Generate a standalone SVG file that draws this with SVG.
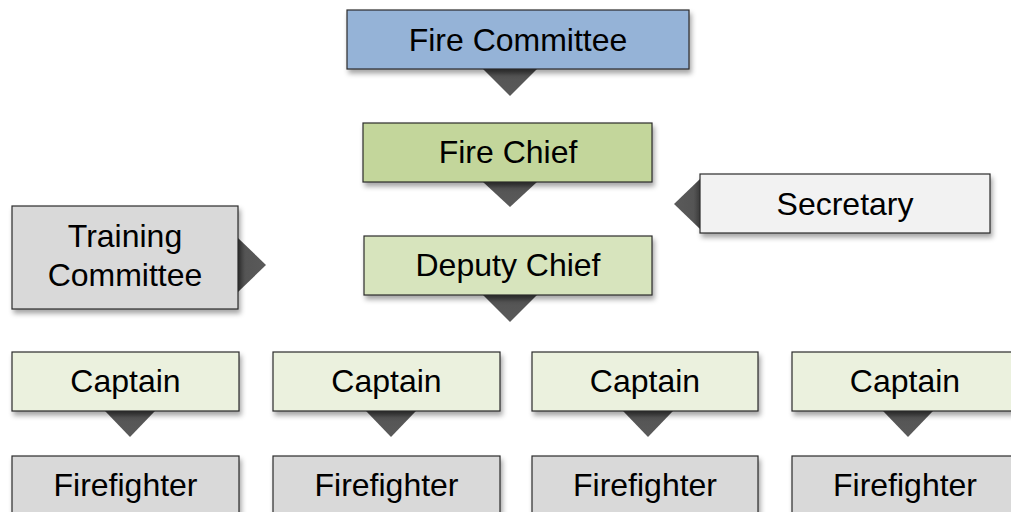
<svg xmlns="http://www.w3.org/2000/svg" width="1011" height="512" viewBox="0 0 1011 512">
<defs>
<filter id="sh" x="-10%" y="-20%" width="125%" height="150%">
<feDropShadow dx="2" dy="4" stdDeviation="2.5" flood-color="#000" flood-opacity="0.35"/>
</filter>
<linearGradient id="tg" x1="0" y1="0" x2="0" y2="1">
<stop offset="0" stop-color="#3f3f3f"/>
<stop offset="0.25" stop-color="#555"/>
<stop offset="1" stop-color="#5a5a5a"/>
</linearGradient>
<linearGradient id="tgh" x1="0" y1="0" x2="1" y2="0">
<stop offset="0" stop-color="#3f3f3f"/>
<stop offset="0.25" stop-color="#555"/>
<stop offset="1" stop-color="#5a5a5a"/>
</linearGradient>
<linearGradient id="tgl" x1="1" y1="0" x2="0" y2="0">
<stop offset="0" stop-color="#3f3f3f"/>
<stop offset="0.25" stop-color="#555"/>
<stop offset="1" stop-color="#5a5a5a"/>
</linearGradient>
</defs>
<style>
.box{stroke:#2b2b2b;stroke-width:1.2;filter:url(#sh)}
.t{font-family:"Liberation Sans",Arial,sans-serif;font-size:32px;fill:#000;text-anchor:middle}
.arr{fill:url(#tg)}
</style>
<rect width="1011" height="512" fill="#fff"/>
<g id="connectors">
<polygon class="arr" points="483,69 537,69 510,96"/>
<polygon class="arr" points="483,182 537,182 510,207"/>
<polygon class="arr" points="483,295 537,295 510,322"/>
<polygon fill="url(#tgh)" points="238,238 238,292 266,265"/>
<polygon fill="url(#tgl)" points="700,179 700,229 674,204"/>
<polygon class="arr" points="105,411 155,411 130,437"/>
<polygon class="arr" points="366,411 416,411 391,437"/>
<polygon class="arr" points="623,411 673,411 648,437"/>
<polygon class="arr" points="883,411 933,411 908,437"/>
</g>
<g id="fire-committee">
<rect class="box" x="347" y="10" width="342" height="59" fill="#95B3D7"/>
<text class="t" x="518" y="51">Fire Committee</text>
</g>
<g id="fire-chief">
<rect class="box" x="363" y="123" width="289" height="59" fill="#C3D69B"/>
<text class="t" x="508" y="163">Fire Chief</text>
</g>
<g id="deputy-chief">
<rect class="box" x="364" y="236" width="288" height="59" fill="#D7E4BD"/>
<text class="t" x="508" y="276">Deputy Chief</text>
</g>
<g id="training-committee">
<rect class="box" x="12" y="206" width="226" height="103" fill="#D9D9D9"/>
<text class="t" x="125" y="247">Training</text>
<text class="t" x="125" y="286">Committee</text>
</g>
<g id="secretary">
<rect class="box" x="700" y="174" width="290" height="59" fill="#F2F2F2"/>
<text class="t" x="845" y="215">Secretary</text>
</g>
<g id="captain-1">
<rect class="box" x="12" y="352" width="227" height="59" fill="#EBF1DE"/>
<text class="t" x="125.5" y="392">Captain</text>
</g>
<g id="captain-2">
<rect class="box" x="273" y="352" width="227" height="59" fill="#EBF1DE"/>
<text class="t" x="386.5" y="392">Captain</text>
</g>
<g id="captain-3">
<rect class="box" x="532" y="352" width="226" height="59" fill="#EBF1DE"/>
<text class="t" x="645" y="392">Captain</text>
</g>
<g id="captain-4">
<rect class="box" x="792" y="352" width="227" height="59" fill="#EBF1DE"/>
<text class="t" x="905" y="392">Captain</text>
</g>
<g id="firefighter-1">
<rect class="box" x="12" y="456" width="227" height="70" fill="#D9D9D9"/>
<text class="t" x="125.5" y="496">Firefighter</text>
</g>
<g id="firefighter-2">
<rect class="box" x="273" y="456" width="227" height="70" fill="#D9D9D9"/>
<text class="t" x="386.5" y="496">Firefighter</text>
</g>
<g id="firefighter-3">
<rect class="box" x="532" y="456" width="226" height="70" fill="#D9D9D9"/>
<text class="t" x="645" y="496">Firefighter</text>
</g>
<g id="firefighter-4">
<rect class="box" x="792" y="456" width="227" height="70" fill="#D9D9D9"/>
<text class="t" x="905" y="496">Firefighter</text>
</g>
</svg>
